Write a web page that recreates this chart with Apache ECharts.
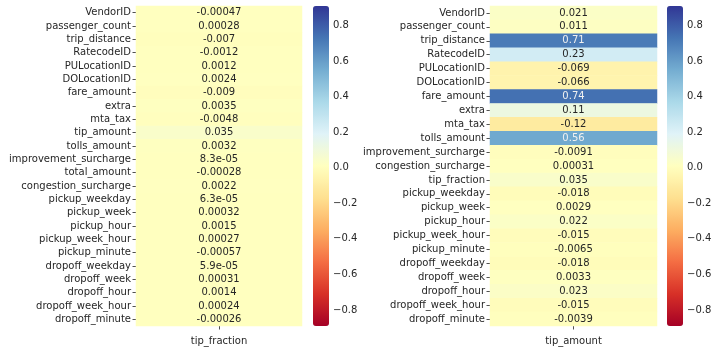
<!DOCTYPE html>
<html>
<head>
<meta charset="utf-8">
<script src="https://cdn.jsdelivr.net/npm/echarts@6/dist/echarts.min.js"></script>
<style>
  html, body { margin: 0; padding: 0; background: #fff; }
  #chart { width: 722px; height: 352px; }
</style>
</head>
<body>
<div id="chart"></div>
<script>
// correlations with tip_fraction
var leftRows = ['VendorID', 'passenger_count', 'trip_distance', 'RatecodeID', 'PULocationID',
    'DOLocationID', 'fare_amount', 'extra', 'mta_tax', 'tip_amount', 'tolls_amount',
    'improvement_surcharge', 'total_amount', 'congestion_surcharge', 'pickup_weekday',
    'pickup_week', 'pickup_hour', 'pickup_week_hour', 'pickup_minute', 'dropoff_weekday',
    'dropoff_week', 'dropoff_hour', 'dropoff_week_hour', 'dropoff_minute'];
var leftVals = [-0.00047, 0.00028, -0.007, -0.0012, 0.0012, 0.0024, -0.009, 0.0035, -0.0048,
    0.035, 0.0032, 8.3e-05, -0.00028, 0.0022, 6.3e-05, 0.00032, 0.0015, 0.00027, -0.00057,
    5.9e-05, 0.00031, 0.0014, 0.00024, -0.00026];

// correlations with tip_amount
var rightRows = ['VendorID', 'passenger_count', 'trip_distance', 'RatecodeID', 'PULocationID',
    'DOLocationID', 'fare_amount', 'extra', 'mta_tax', 'tolls_amount', 'improvement_surcharge',
    'congestion_surcharge', 'tip_fraction', 'pickup_weekday', 'pickup_week', 'pickup_hour',
    'pickup_week_hour', 'pickup_minute', 'dropoff_weekday', 'dropoff_week', 'dropoff_hour',
    'dropoff_week_hour', 'dropoff_minute'];
var rightVals = [0.021, 0.011, 0.71, 0.23, -0.069, -0.066, 0.74, 0.11, -0.12, 0.56, -0.0091,
    0.00031, 0.035, -0.018, 0.0029, 0.022, -0.015, -0.0065, -0.018, 0.0033, 0.023, -0.015, -0.0039];

var cols = [['tip_fraction'], ['tip_amount']];
var vmin = -0.91, vmax = 0.91;
var rdylbu = ['#a50026', '#d73027', '#f46d43', '#fdae61', '#fee090', '#ffffbf',
    '#e0f3f8', '#abd9e9', '#74add1', '#4575b4', '#313695'];

var font = 'DejaVu Sans';
var txt = '#262626';

// like python's .2g
function g2(v) {
    if (v === 0) return '0';
    var e = Math.floor(Math.log10(Math.abs(v)));
    if (e < -4) {
        var s = v.toExponential(1);
        return s.replace(/e([+-])(\d)$/, 'e$10$2');
    }
    return String(Number(v.toPrecision(2)));
}

function cells(vals) {
    return vals.map(function (v, i) {
        return {
            value: [0, i, v],
            label: { color: Math.abs(v) > 0.45 ? '#f0f0f0' : txt }
        };
    });
}

function tickFmt(v) {
    if (Math.abs(v) < 1e-9) return '0.0';
    return v.toFixed(1).replace('-', '\u2212');
}

var dom = document.getElementById('chart');
var myChart = echarts.init(dom);

var catY = function (gi, rows) {
    return {
        type: 'category', gridIndex: gi, data: rows, inverse: true,
        axisLine: {show: false},
        axisTick: {show: true, length: 3.5, alignWithLabel: true, lineStyle: {color: txt, width: 0.8}},
        axisLabel: {color: txt, fontFamily: font, fontSize: 10, margin: 5}
    };
};
var catX = function (gi, c) {
    return {
        type: 'category', gridIndex: gi, data: c, position: 'bottom',
        axisLine: {show: false},
        axisTick: {show: true, length: 3.5, alignWithLabel: true, lineStyle: {color: txt, width: 0.8}},
        axisLabel: {color: txt, fontFamily: font, fontSize: 10, margin: 10}
    };
};
var barAxis = function (gi) {
    return {
        type: 'value', gridIndex: gi, position: 'right', min: -0.8, max: 0.8, interval: 0.2,
        axisLine: {show: false},
        splitLine: {show: false},
        axisTick: {show: true, length: 3.5, lineStyle: {color: txt, width: 0.8}},
        axisLabel: {color: txt, fontFamily: font, fontSize: 10, margin: 4, formatter: tickFmt}
    };
};
var hiddenX = function (gi) {
    return {type: 'value', gridIndex: gi, show: false, min: 0, max: 1};
};

var cellStyle = {borderWidth: 0, borderRadius: 0};

var option = {
    animation: false,
    textStyle: {fontFamily: font},
    grid: [
        {left: 136, top: 6, width: 166, height: 320},
        {left: 490, top: 6, width: 167, height: 320},
        {left: 313, top: 25.5, width: 16, height: 284.5},
        {left: 667, top: 25.5, width: 16, height: 284.5}
    ],
    xAxis: [catX(0, cols[0]), catX(1, cols[1]), hiddenX(2), hiddenX(3)],
    yAxis: [catY(0, leftRows), catY(1, rightRows), barAxis(2), barAxis(3)],
    visualMap: [
        {
            type: 'continuous', seriesIndex: 0, dimension: 2, min: vmin, max: vmax,
            calculable: false, orient: 'vertical', left: 313, top: 6, padding: 0,
            itemWidth: 16, itemHeight: 320, text: null, showLabel: false,
            borderRadius: 0, hoverLink: false,
            inRange: {color: rdylbu}
        },
        {
            type: 'continuous', seriesIndex: 1, dimension: 2, min: vmin, max: vmax,
            calculable: false, orient: 'vertical', left: 667, top: 6, padding: 0,
            itemWidth: 16, itemHeight: 320, text: null, showLabel: false,
            borderRadius: 0, hoverLink: false,
            inRange: {color: rdylbu}
        }
    ],
    series: [
        {
            type: 'heatmap', xAxisIndex: 0, yAxisIndex: 0, data: cells(leftVals),
            itemStyle: cellStyle,
            label: {show: true, fontFamily: font, fontSize: 10,
                formatter: function (p) { return g2(p.value[2]); }},
            emphasis: {disabled: true}
        },
        {
            type: 'heatmap', xAxisIndex: 1, yAxisIndex: 1, data: cells(rightVals),
            itemStyle: cellStyle,
            label: {show: true, fontFamily: font, fontSize: 10,
                formatter: function (p) { return g2(p.value[2]); }},
            emphasis: {disabled: true}
        }
    ]
};
myChart.setOption(option);
</script>
</body>
</html>
